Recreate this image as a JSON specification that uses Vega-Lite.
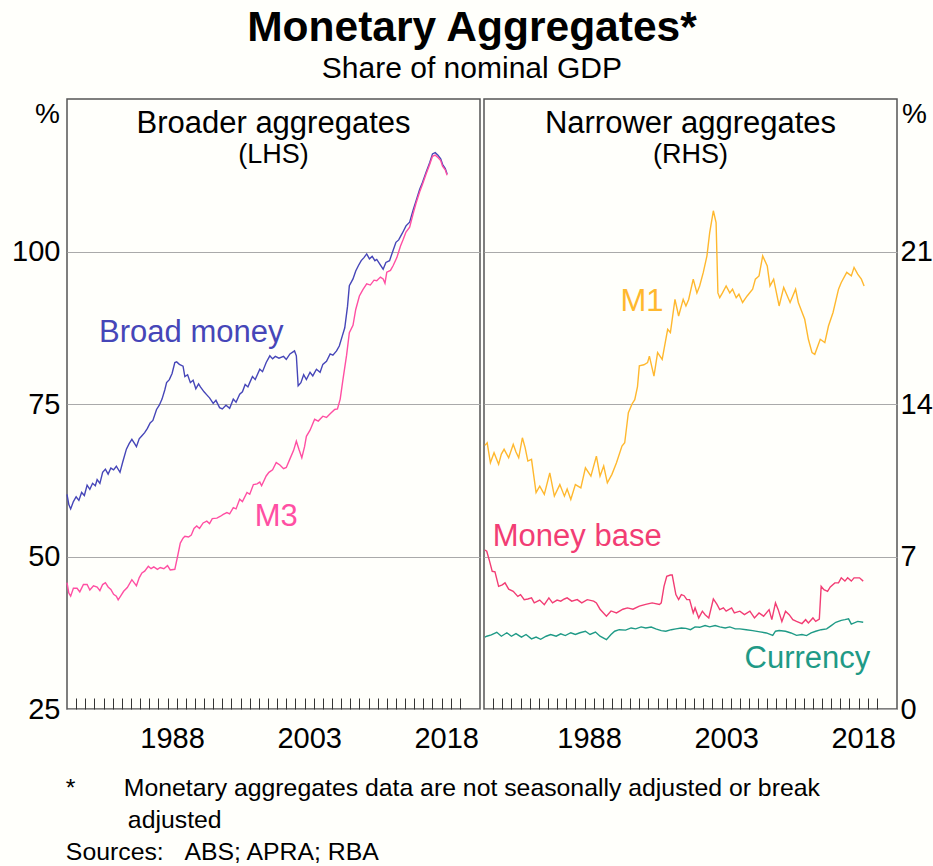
{
  "$schema": "https://vega.github.io/schema/vega-lite/v6.json",
  "background": "#fffffb",
  "padding": {"left": 10, "right": 2, "top": 6, "bottom": 2},
  "config": {
    "font": "Liberation Sans",
    "view": {"stroke": "#555555", "strokeWidth": 1.5},
    "axis": {"labelFont": "Liberation Sans", "labelFontSize": 29, "labelColor": "#000000", "titleFont": "Liberation Sans", "titleColor": "#000000", "gridColor": "#aaaaaa", "gridWidth": 1},
    "title": {"font": "Liberation Sans", "subtitleFont": "Liberation Sans", "color": "#000000", "subtitleColor": "#000000"},
    "text": {"font": "Liberation Sans"}
  },
  "title": {"text": "Monetary Aggregates*", "subtitle": "Share of nominal GDP", "fontSize": 42.5, "fontWeight": "bold", "subtitleFontSize": 30, "anchor": "middle", "offset": 14, "subtitlePadding": 5},
  "datasets": {
    "left": [
      {"s":"Broad money","t":1977.0,"v":60.2},{"s":"Broad money","t":1977.2,"v":58.5},{"s":"Broad money","t":1977.4,"v":57.8},{"s":"Broad money","t":1977.7,"v":59.0},{"s":"Broad money","t":1978.0,"v":59.8},{"s":"Broad money","t":1978.3,"v":59.2},{"s":"Broad money","t":1978.6,"v":60.5},{"s":"Broad money","t":1978.9,"v":60.0},{"s":"Broad money","t":1979.2,"v":61.7},{"s":"Broad money","t":1979.5,"v":61.0},{"s":"Broad money","t":1979.8,"v":62.0},{"s":"Broad money","t":1980.1,"v":61.6},{"s":"Broad money","t":1980.3,"v":62.6},{"s":"Broad money","t":1980.6,"v":62.0},{"s":"Broad money","t":1980.9,"v":63.8},{"s":"Broad money","t":1981.2,"v":64.3},{"s":"Broad money","t":1981.5,"v":63.5},{"s":"Broad money","t":1981.8,"v":64.5},{"s":"Broad money","t":1982.1,"v":64.2},{"s":"Broad money","t":1982.4,"v":64.8},{"s":"Broad money","t":1982.8,"v":63.8},{"s":"Broad money","t":1983.1,"v":65.5},{"s":"Broad money","t":1983.5,"v":67.6},{"s":"Broad money","t":1983.8,"v":68.5},{"s":"Broad money","t":1984.1,"v":69.2},{"s":"Broad money","t":1984.4,"v":68.5},{"s":"Broad money","t":1984.6,"v":68.0},{"s":"Broad money","t":1984.9,"v":69.3},{"s":"Broad money","t":1985.2,"v":69.8},{"s":"Broad money","t":1985.5,"v":70.3},{"s":"Broad money","t":1985.8,"v":71.0},{"s":"Broad money","t":1986.1,"v":71.9},{"s":"Broad money","t":1986.4,"v":72.3},{"s":"Broad money","t":1986.8,"v":74.1},{"s":"Broad money","t":1987.1,"v":74.8},{"s":"Broad money","t":1987.4,"v":75.8},{"s":"Broad money","t":1987.7,"v":77.3},{"s":"Broad money","t":1987.9,"v":78.5},{"s":"Broad money","t":1988.2,"v":79.0},{"s":"Broad money","t":1988.5,"v":80.0},{"s":"Broad money","t":1988.8,"v":81.8},{"s":"Broad money","t":1989.0,"v":81.9},{"s":"Broad money","t":1989.3,"v":81.5},{"s":"Broad money","t":1989.7,"v":81.2},{"s":"Broad money","t":1989.9,"v":79.5},{"s":"Broad money","t":1990.2,"v":79.8},{"s":"Broad money","t":1990.5,"v":78.5},{"s":"Broad money","t":1990.8,"v":78.9},{"s":"Broad money","t":1991.1,"v":77.5},{"s":"Broad money","t":1991.4,"v":78.3},{"s":"Broad money","t":1991.6,"v":77.8},{"s":"Broad money","t":1992.0,"v":77.0},{"s":"Broad money","t":1992.3,"v":76.5},{"s":"Broad money","t":1992.6,"v":76.0},{"s":"Broad money","t":1993.0,"v":75.1},{"s":"Broad money","t":1993.3,"v":75.6},{"s":"Broad money","t":1993.7,"v":74.4},{"s":"Broad money","t":1994.0,"v":74.2},{"s":"Broad money","t":1994.4,"v":74.8},{"s":"Broad money","t":1994.8,"v":74.3},{"s":"Broad money","t":1995.2,"v":75.8},{"s":"Broad money","t":1995.5,"v":75.3},{"s":"Broad money","t":1995.9,"v":76.6},{"s":"Broad money","t":1996.2,"v":77.0},{"s":"Broad money","t":1996.5,"v":78.2},{"s":"Broad money","t":1996.8,"v":77.8},{"s":"Broad money","t":1997.0,"v":78.5},{"s":"Broad money","t":1997.3,"v":79.5},{"s":"Broad money","t":1997.6,"v":79.0},{"s":"Broad money","t":1998.1,"v":80.7},{"s":"Broad money","t":1998.4,"v":80.3},{"s":"Broad money","t":1998.8,"v":81.8},{"s":"Broad money","t":1999.2,"v":82.9},{"s":"Broad money","t":1999.5,"v":82.4},{"s":"Broad money","t":1999.8,"v":82.8},{"s":"Broad money","t":2000.2,"v":82.5},{"s":"Broad money","t":2000.7,"v":82.8},{"s":"Broad money","t":2001.0,"v":82.3},{"s":"Broad money","t":2001.4,"v":83.2},{"s":"Broad money","t":2001.7,"v":83.5},{"s":"Broad money","t":2001.9,"v":83.7},{"s":"Broad money","t":2002.1,"v":82.9},{"s":"Broad money","t":2002.3,"v":78.0},{"s":"Broad money","t":2002.6,"v":78.5},{"s":"Broad money","t":2002.9,"v":79.8},{"s":"Broad money","t":2003.2,"v":79.0},{"s":"Broad money","t":2003.6,"v":80.2},{"s":"Broad money","t":2003.9,"v":79.6},{"s":"Broad money","t":2004.3,"v":80.7},{"s":"Broad money","t":2004.7,"v":80.2},{"s":"Broad money","t":2005.0,"v":81.5},{"s":"Broad money","t":2005.4,"v":82.0},{"s":"Broad money","t":2005.8,"v":83.2},{"s":"Broad money","t":2006.1,"v":83.0},{"s":"Broad money","t":2006.5,"v":83.7},{"s":"Broad money","t":2006.8,"v":84.5},{"s":"Broad money","t":2007.1,"v":86.0},{"s":"Broad money","t":2007.4,"v":87.5},{"s":"Broad money","t":2007.7,"v":91.0},{"s":"Broad money","t":2007.9,"v":94.4},{"s":"Broad money","t":2008.3,"v":95.5},{"s":"Broad money","t":2008.6,"v":96.8},{"s":"Broad money","t":2008.9,"v":97.7},{"s":"Broad money","t":2009.2,"v":98.5},{"s":"Broad money","t":2009.5,"v":99.0},{"s":"Broad money","t":2009.8,"v":99.6},{"s":"Broad money","t":2010.1,"v":98.8},{"s":"Broad money","t":2010.4,"v":99.2},{"s":"Broad money","t":2010.7,"v":98.5},{"s":"Broad money","t":2010.9,"v":98.7},{"s":"Broad money","t":2011.2,"v":98.0},{"s":"Broad money","t":2011.6,"v":97.1},{"s":"Broad money","t":2011.9,"v":98.2},{"s":"Broad money","t":2012.3,"v":98.5},{"s":"Broad money","t":2012.6,"v":99.8},{"s":"Broad money","t":2013.0,"v":101.5},{"s":"Broad money","t":2013.3,"v":101.9},{"s":"Broad money","t":2013.7,"v":103.0},{"s":"Broad money","t":2014.1,"v":104.2},{"s":"Broad money","t":2014.5,"v":104.8},{"s":"Broad money","t":2014.9,"v":106.9},{"s":"Broad money","t":2015.2,"v":108.3},{"s":"Broad money","t":2015.6,"v":110.2},{"s":"Broad money","t":2015.9,"v":111.3},{"s":"Broad money","t":2016.3,"v":113.0},{"s":"Broad money","t":2016.7,"v":114.6},{"s":"Broad money","t":2017.0,"v":116.0},{"s":"Broad money","t":2017.3,"v":116.2},{"s":"Broad money","t":2017.6,"v":115.8},{"s":"Broad money","t":2017.9,"v":115.2},{"s":"Broad money","t":2018.1,"v":114.3},{"s":"Broad money","t":2018.4,"v":113.6},{"s":"Broad money","t":2018.6,"v":112.7},
      {"s":"M3","t":1977.0,"v":45.7},{"s":"M3","t":1977.2,"v":44.0},{"s":"M3","t":1977.4,"v":43.5},{"s":"M3","t":1977.7,"v":44.8},{"s":"M3","t":1978.1,"v":44.8},{"s":"M3","t":1978.4,"v":44.2},{"s":"M3","t":1978.8,"v":45.4},{"s":"M3","t":1979.2,"v":45.4},{"s":"M3","t":1979.5,"v":44.5},{"s":"M3","t":1979.9,"v":45.2},{"s":"M3","t":1980.3,"v":45.0},{"s":"M3","t":1980.6,"v":44.4},{"s":"M3","t":1980.9,"v":45.4},{"s":"M3","t":1981.2,"v":45.7},{"s":"M3","t":1981.5,"v":45.0},{"s":"M3","t":1981.8,"v":44.6},{"s":"M3","t":1982.1,"v":43.8},{"s":"M3","t":1982.4,"v":43.5},{"s":"M3","t":1982.6,"v":42.9},{"s":"M3","t":1982.9,"v":43.6},{"s":"M3","t":1983.2,"v":44.3},{"s":"M3","t":1983.6,"v":44.9},{"s":"M3","t":1984.1,"v":46.2},{"s":"M3","t":1984.4,"v":45.6},{"s":"M3","t":1984.6,"v":45.2},{"s":"M3","t":1984.9,"v":46.5},{"s":"M3","t":1985.2,"v":47.3},{"s":"M3","t":1985.5,"v":47.6},{"s":"M3","t":1985.9,"v":48.4},{"s":"M3","t":1986.2,"v":48.0},{"s":"M3","t":1986.5,"v":48.3},{"s":"M3","t":1986.9,"v":47.9},{"s":"M3","t":1987.2,"v":48.2},{"s":"M3","t":1987.6,"v":48.0},{"s":"M3","t":1988.0,"v":48.5},{"s":"M3","t":1988.3,"v":47.8},{"s":"M3","t":1988.8,"v":47.9},{"s":"M3","t":1989.1,"v":50.0},{"s":"M3","t":1989.4,"v":52.2},{"s":"M3","t":1989.7,"v":53.0},{"s":"M3","t":1989.9,"v":53.3},{"s":"M3","t":1990.3,"v":53.2},{"s":"M3","t":1990.6,"v":53.5},{"s":"M3","t":1990.9,"v":54.6},{"s":"M3","t":1991.2,"v":55.0},{"s":"M3","t":1991.5,"v":54.6},{"s":"M3","t":1991.9,"v":55.5},{"s":"M3","t":1992.3,"v":55.8},{"s":"M3","t":1992.6,"v":55.4},{"s":"M3","t":1992.9,"v":56.2},{"s":"M3","t":1993.4,"v":56.3},{"s":"M3","t":1993.8,"v":56.6},{"s":"M3","t":1994.1,"v":56.9},{"s":"M3","t":1994.5,"v":57.2},{"s":"M3","t":1994.8,"v":57.0},{"s":"M3","t":1995.2,"v":58.0},{"s":"M3","t":1995.5,"v":57.8},{"s":"M3","t":1995.9,"v":59.4},{"s":"M3","t":1996.2,"v":59.0},{"s":"M3","t":1996.7,"v":60.5},{"s":"M3","t":1997.0,"v":60.2},{"s":"M3","t":1997.4,"v":61.8},{"s":"M3","t":1997.8,"v":61.9},{"s":"M3","t":1998.1,"v":62.2},{"s":"M3","t":1998.3,"v":61.6},{"s":"M3","t":1998.8,"v":63.2},{"s":"M3","t":1999.1,"v":63.8},{"s":"M3","t":1999.5,"v":64.2},{"s":"M3","t":1999.9,"v":65.4},{"s":"M3","t":2000.3,"v":65.0},{"s":"M3","t":2000.7,"v":64.4},{"s":"M3","t":2001.0,"v":64.6},{"s":"M3","t":2001.4,"v":66.0},{"s":"M3","t":2001.8,"v":67.4},{"s":"M3","t":2002.1,"v":68.9},{"s":"M3","t":2002.4,"v":67.5},{"s":"M3","t":2002.7,"v":66.2},{"s":"M3","t":2003.0,"v":68.0},{"s":"M3","t":2003.2,"v":69.7},{"s":"M3","t":2003.6,"v":70.7},{"s":"M3","t":2004.1,"v":72.5},{"s":"M3","t":2004.5,"v":72.2},{"s":"M3","t":2005.0,"v":73.0},{"s":"M3","t":2005.4,"v":72.8},{"s":"M3","t":2005.8,"v":73.4},{"s":"M3","t":2006.3,"v":74.1},{"s":"M3","t":2006.6,"v":74.2},{"s":"M3","t":2006.9,"v":75.8},{"s":"M3","t":2007.2,"v":79.0},{"s":"M3","t":2007.6,"v":83.0},{"s":"M3","t":2007.9,"v":86.7},{"s":"M3","t":2008.3,"v":87.9},{"s":"M3","t":2008.6,"v":90.5},{"s":"M3","t":2009.0,"v":92.7},{"s":"M3","t":2009.4,"v":93.8},{"s":"M3","t":2009.8,"v":94.7},{"s":"M3","t":2010.2,"v":94.5},{"s":"M3","t":2010.6,"v":95.3},{"s":"M3","t":2010.9,"v":95.2},{"s":"M3","t":2011.3,"v":95.8},{"s":"M3","t":2011.6,"v":95.5},{"s":"M3","t":2011.8,"v":94.8},{"s":"M3","t":2012.0,"v":96.6},{"s":"M3","t":2012.4,"v":96.9},{"s":"M3","t":2012.7,"v":97.7},{"s":"M3","t":2013.1,"v":99.0},{"s":"M3","t":2013.5,"v":100.9},{"s":"M3","t":2013.8,"v":102.0},{"s":"M3","t":2014.1,"v":103.2},{"s":"M3","t":2014.5,"v":104.0},{"s":"M3","t":2014.9,"v":106.3},{"s":"M3","t":2015.2,"v":107.9},{"s":"M3","t":2015.6,"v":109.8},{"s":"M3","t":2015.9,"v":111.0},{"s":"M3","t":2016.3,"v":112.7},{"s":"M3","t":2016.7,"v":114.3},{"s":"M3","t":2017.0,"v":115.6},{"s":"M3","t":2017.3,"v":115.8},{"s":"M3","t":2017.6,"v":115.4},{"s":"M3","t":2017.9,"v":114.9},{"s":"M3","t":2018.1,"v":114.0},{"s":"M3","t":2018.4,"v":113.4},{"s":"M3","t":2018.6,"v":112.5}
    ],
    "right": [
      {"s":"M1","t":1977.1,"v":12.1},{"s":"M1","t":1977.35,"v":12.22},{"s":"M1","t":1977.7,"v":11.3},{"s":"M1","t":1978.1,"v":11.76},{"s":"M1","t":1978.6,"v":11.23},{"s":"M1","t":1978.9,"v":11.7},{"s":"M1","t":1979.2,"v":11.92},{"s":"M1","t":1979.7,"v":11.53},{"s":"M1","t":1980.2,"v":12.15},{"s":"M1","t":1980.5,"v":11.8},{"s":"M1","t":1980.8,"v":11.53},{"s":"M1","t":1981.2,"v":12.45},{"s":"M1","t":1981.5,"v":12.0},{"s":"M1","t":1981.8,"v":11.38},{"s":"M1","t":1982.2,"v":11.46},{"s":"M1","t":1982.7,"v":9.93},{"s":"M1","t":1983.1,"v":10.23},{"s":"M1","t":1983.6,"v":9.85},{"s":"M1","t":1984.2,"v":10.84},{"s":"M1","t":1984.7,"v":9.77},{"s":"M1","t":1985.3,"v":10.3},{"s":"M1","t":1985.8,"v":9.77},{"s":"M1","t":1986.1,"v":10.1},{"s":"M1","t":1986.5,"v":9.62},{"s":"M1","t":1987.0,"v":10.3},{"s":"M1","t":1987.6,"v":10.15},{"s":"M1","t":1988.1,"v":11.07},{"s":"M1","t":1988.7,"v":10.69},{"s":"M1","t":1989.3,"v":11.61},{"s":"M1","t":1989.7,"v":10.69},{"s":"M1","t":1990.1,"v":11.15},{"s":"M1","t":1990.5,"v":10.38},{"s":"M1","t":1991.0,"v":10.77},{"s":"M1","t":1991.5,"v":11.3},{"s":"M1","t":1992.1,"v":12.07},{"s":"M1","t":1992.4,"v":12.22},{"s":"M1","t":1992.8,"v":13.6},{"s":"M1","t":1993.2,"v":14.0},{"s":"M1","t":1993.5,"v":14.2},{"s":"M1","t":1993.8,"v":14.8},{"s":"M1","t":1994.0,"v":15.75},{"s":"M1","t":1994.5,"v":15.8},{"s":"M1","t":1994.9,"v":15.9},{"s":"M1","t":1995.1,"v":16.2},{"s":"M1","t":1995.6,"v":15.28},{"s":"M1","t":1996.0,"v":16.36},{"s":"M1","t":1996.5,"v":16.05},{"s":"M1","t":1997.1,"v":17.43},{"s":"M1","t":1997.4,"v":17.28},{"s":"M1","t":1997.9,"v":18.8},{"s":"M1","t":1998.3,"v":18.04},{"s":"M1","t":1998.8,"v":18.8},{"s":"M1","t":1999.1,"v":18.5},{"s":"M1","t":1999.4,"v":18.8},{"s":"M1","t":1999.9,"v":19.73},{"s":"M1","t":2000.3,"v":19.1},{"s":"M1","t":2000.6,"v":19.42},{"s":"M1","t":2001.0,"v":20.04},{"s":"M1","t":2001.4,"v":20.8},{"s":"M1","t":2001.7,"v":21.87},{"s":"M1","t":2002.1,"v":22.87},{"s":"M1","t":2002.4,"v":22.33},{"s":"M1","t":2002.6,"v":19.1},{"s":"M1","t":2002.8,"v":18.88},{"s":"M1","t":2003.1,"v":19.1},{"s":"M1","t":2003.5,"v":19.42},{"s":"M1","t":2003.9,"v":19.1},{"s":"M1","t":2004.2,"v":19.27},{"s":"M1","t":2004.6,"v":18.88},{"s":"M1","t":2004.9,"v":19.04},{"s":"M1","t":2005.3,"v":18.66},{"s":"M1","t":2005.8,"v":18.96},{"s":"M1","t":2006.4,"v":19.27},{"s":"M1","t":2006.7,"v":19.73},{"s":"M1","t":2007.1,"v":19.88},{"s":"M1","t":2007.5,"v":20.8},{"s":"M1","t":2008.0,"v":20.34},{"s":"M1","t":2008.3,"v":19.42},{"s":"M1","t":2008.7,"v":19.73},{"s":"M1","t":2009.3,"v":18.5},{"s":"M1","t":2009.8,"v":19.35},{"s":"M1","t":2010.5,"v":18.66},{"s":"M1","t":2011.1,"v":19.27},{"s":"M1","t":2011.4,"v":18.66},{"s":"M1","t":2012.1,"v":17.89},{"s":"M1","t":2012.5,"v":16.97},{"s":"M1","t":2012.9,"v":16.36},{"s":"M1","t":2013.2,"v":16.28},{"s":"M1","t":2013.8,"v":16.97},{"s":"M1","t":2014.3,"v":16.82},{"s":"M1","t":2014.7,"v":17.58},{"s":"M1","t":2015.2,"v":18.2},{"s":"M1","t":2015.8,"v":19.27},{"s":"M1","t":2016.1,"v":19.58},{"s":"M1","t":2016.7,"v":20.04},{"s":"M1","t":2017.2,"v":19.88},{"s":"M1","t":2017.5,"v":20.27},{"s":"M1","t":2017.9,"v":19.96},{"s":"M1","t":2018.3,"v":19.73},{"s":"M1","t":2018.6,"v":19.42},
      {"s":"Money base","t":1977.1,"v":7.3},{"s":"Money base","t":1977.3,"v":7.24},{"s":"Money base","t":1977.6,"v":6.8},{"s":"Money base","t":1977.9,"v":6.32},{"s":"Money base","t":1978.2,"v":6.3},{"s":"Money base","t":1978.6,"v":5.63},{"s":"Money base","t":1979.0,"v":5.7},{"s":"Money base","t":1979.3,"v":5.79},{"s":"Money base","t":1979.7,"v":5.5},{"s":"Money base","t":1980.2,"v":5.4},{"s":"Money base","t":1980.7,"v":5.17},{"s":"Money base","t":1981.0,"v":5.25},{"s":"Money base","t":1981.4,"v":5.02},{"s":"Money base","t":1981.8,"v":5.05},{"s":"Money base","t":1982.2,"v":5.1},{"s":"Money base","t":1982.5,"v":4.87},{"s":"Money base","t":1983.1,"v":5.0},{"s":"Money base","t":1983.6,"v":4.79},{"s":"Money base","t":1984.1,"v":5.1},{"s":"Money base","t":1984.5,"v":4.87},{"s":"Money base","t":1985.0,"v":5.0},{"s":"Money base","t":1985.4,"v":4.95},{"s":"Money base","t":1985.8,"v":5.05},{"s":"Money base","t":1986.1,"v":5.1},{"s":"Money base","t":1986.6,"v":4.95},{"s":"Money base","t":1987.2,"v":5.02},{"s":"Money base","t":1987.7,"v":4.87},{"s":"Money base","t":1988.3,"v":5.02},{"s":"Money base","t":1989.0,"v":4.95},{"s":"Money base","t":1989.3,"v":4.87},{"s":"Money base","t":1989.7,"v":4.58},{"s":"Money base","t":1990.4,"v":4.26},{"s":"Money base","t":1990.9,"v":4.5},{"s":"Money base","t":1991.5,"v":4.41},{"s":"Money base","t":1992.2,"v":4.58},{"s":"Money base","t":1992.7,"v":4.64},{"s":"Money base","t":1993.3,"v":4.58},{"s":"Money base","t":1994.0,"v":4.72},{"s":"Money base","t":1994.7,"v":4.8},{"s":"Money base","t":1995.4,"v":4.87},{"s":"Money base","t":1996.2,"v":4.8},{"s":"Money base","t":1996.4,"v":4.87},{"s":"Money base","t":1996.7,"v":5.63},{"s":"Money base","t":1997.0,"v":6.09},{"s":"Money base","t":1997.4,"v":6.15},{"s":"Money base","t":1997.6,"v":6.15},{"s":"Money base","t":1998.0,"v":5.25},{"s":"Money base","t":1998.3,"v":5.02},{"s":"Money base","t":1998.6,"v":5.25},{"s":"Money base","t":1998.9,"v":5.2},{"s":"Money base","t":1999.2,"v":5.02},{"s":"Money base","t":1999.5,"v":5.02},{"s":"Money base","t":1999.9,"v":4.41},{"s":"Money base","t":2000.1,"v":4.64},{"s":"Money base","t":2000.5,"v":4.18},{"s":"Money base","t":2000.9,"v":4.49},{"s":"Money base","t":2001.2,"v":4.33},{"s":"Money base","t":2001.6,"v":4.18},{"s":"Money base","t":2002.1,"v":5.05},{"s":"Money base","t":2002.5,"v":4.8},{"s":"Money base","t":2002.8,"v":4.56},{"s":"Money base","t":2003.2,"v":4.64},{"s":"Money base","t":2003.5,"v":4.49},{"s":"Money base","t":2004.1,"v":4.64},{"s":"Money base","t":2004.4,"v":4.41},{"s":"Money base","t":2005.0,"v":4.49},{"s":"Money base","t":2005.5,"v":4.33},{"s":"Money base","t":2006.1,"v":4.49},{"s":"Money base","t":2006.6,"v":4.18},{"s":"Money base","t":2007.1,"v":4.41},{"s":"Money base","t":2007.6,"v":4.26},{"s":"Money base","t":2008.2,"v":4.56},{"s":"Money base","t":2008.5,"v":4.1},{"s":"Money base","t":2008.9,"v":4.87},{"s":"Money base","t":2009.2,"v":4.56},{"s":"Money base","t":2009.6,"v":4.02},{"s":"Money base","t":2010.0,"v":4.49},{"s":"Money base","t":2010.4,"v":4.33},{"s":"Money base","t":2010.8,"v":4.1},{"s":"Money base","t":2011.2,"v":4.02},{"s":"Money base","t":2011.8,"v":3.92},{"s":"Money base","t":2012.2,"v":4.1},{"s":"Money base","t":2012.5,"v":3.95},{"s":"Money base","t":2013.0,"v":4.18},{"s":"Money base","t":2013.3,"v":4.02},{"s":"Money base","t":2013.7,"v":4.13},{"s":"Money base","t":2013.9,"v":5.63},{"s":"Money base","t":2014.2,"v":5.48},{"s":"Money base","t":2014.6,"v":5.4},{"s":"Money base","t":2014.9,"v":5.6},{"s":"Money base","t":2015.4,"v":5.79},{"s":"Money base","t":2015.8,"v":5.79},{"s":"Money base","t":2016.1,"v":6.02},{"s":"Money base","t":2016.5,"v":5.87},{"s":"Money base","t":2016.8,"v":6.02},{"s":"Money base","t":2017.2,"v":5.87},{"s":"Money base","t":2017.5,"v":6.02},{"s":"Money base","t":2018.1,"v":6.02},{"s":"Money base","t":2018.5,"v":5.87},
      {"s":"Currency","t":1977.1,"v":3.3},{"s":"Currency","t":1977.3,"v":3.34},{"s":"Currency","t":1977.8,"v":3.4},{"s":"Currency","t":1978.4,"v":3.52},{"s":"Currency","t":1978.9,"v":3.34},{"s":"Currency","t":1979.5,"v":3.5},{"s":"Currency","t":1980.0,"v":3.34},{"s":"Currency","t":1980.5,"v":3.46},{"s":"Currency","t":1981.1,"v":3.3},{"s":"Currency","t":1981.6,"v":3.42},{"s":"Currency","t":1982.2,"v":3.22},{"s":"Currency","t":1982.7,"v":3.3},{"s":"Currency","t":1983.2,"v":3.2},{"s":"Currency","t":1983.8,"v":3.34},{"s":"Currency","t":1984.3,"v":3.42},{"s":"Currency","t":1984.9,"v":3.34},{"s":"Currency","t":1985.4,"v":3.45},{"s":"Currency","t":1985.9,"v":3.37},{"s":"Currency","t":1986.5,"v":3.5},{"s":"Currency","t":1987.0,"v":3.42},{"s":"Currency","t":1987.5,"v":3.5},{"s":"Currency","t":1988.1,"v":3.57},{"s":"Currency","t":1988.6,"v":3.42},{"s":"Currency","t":1989.2,"v":3.53},{"s":"Currency","t":1989.7,"v":3.34},{"s":"Currency","t":1990.4,"v":3.18},{"s":"Currency","t":1990.9,"v":3.42},{"s":"Currency","t":1991.3,"v":3.57},{"s":"Currency","t":1991.8,"v":3.64},{"s":"Currency","t":1992.5,"v":3.62},{"s":"Currency","t":1993.1,"v":3.72},{"s":"Currency","t":1993.6,"v":3.68},{"s":"Currency","t":1994.2,"v":3.77},{"s":"Currency","t":1994.7,"v":3.72},{"s":"Currency","t":1995.3,"v":3.76},{"s":"Currency","t":1995.8,"v":3.68},{"s":"Currency","t":1996.4,"v":3.6},{"s":"Currency","t":1996.9,"v":3.57},{"s":"Currency","t":1997.5,"v":3.64},{"s":"Currency","t":1998.0,"v":3.68},{"s":"Currency","t":1998.6,"v":3.72},{"s":"Currency","t":1999.1,"v":3.7},{"s":"Currency","t":1999.6,"v":3.64},{"s":"Currency","t":2000.1,"v":3.77},{"s":"Currency","t":2000.6,"v":3.75},{"s":"Currency","t":2001.2,"v":3.83},{"s":"Currency","t":2001.7,"v":3.77},{"s":"Currency","t":2002.3,"v":3.83},{"s":"Currency","t":2002.8,"v":3.77},{"s":"Currency","t":2003.4,"v":3.72},{"s":"Currency","t":2003.9,"v":3.77},{"s":"Currency","t":2004.5,"v":3.68},{"s":"Currency","t":2005.0,"v":3.68},{"s":"Currency","t":2005.7,"v":3.64},{"s":"Currency","t":2006.4,"v":3.6},{"s":"Currency","t":2007.2,"v":3.54},{"s":"Currency","t":2007.9,"v":3.49},{"s":"Currency","t":2008.6,"v":3.38},{"s":"Currency","t":2008.9,"v":3.57},{"s":"Currency","t":2009.3,"v":3.6},{"s":"Currency","t":2010.0,"v":3.57},{"s":"Currency","t":2010.6,"v":3.49},{"s":"Currency","t":2011.2,"v":3.38},{"s":"Currency","t":2011.8,"v":3.42},{"s":"Currency","t":2012.3,"v":3.37},{"s":"Currency","t":2012.8,"v":3.49},{"s":"Currency","t":2013.3,"v":3.57},{"s":"Currency","t":2013.9,"v":3.64},{"s":"Currency","t":2014.5,"v":3.68},{"s":"Currency","t":2015.0,"v":3.83},{"s":"Currency","t":2015.5,"v":3.98},{"s":"Currency","t":2016.1,"v":4.07},{"s":"Currency","t":2016.5,"v":4.1},{"s":"Currency","t":2016.9,"v":4.14},{"s":"Currency","t":2017.2,"v":3.9},{"s":"Currency","t":2017.9,"v":4.02},{"s":"Currency","t":2018.5,"v":3.98}
    ],
    "leftLabels": [
      {"s":"Broad money","t":1990.6,"v":85.1},
      {"s":"M3","t":1999.9,"v":55.0}
    ],
    "rightLabels": [
      {"s":"M1","t":1994.3,"v":18.27},
      {"s":"Money base","t":1987.2,"v":7.47},
      {"s":"Currency","t":2012.4,"v":1.88}
    ]
  },
  "vconcat": [
    {
      "title": {"text": ["*\u00a0\u00a0\u00a0\u00a0\u00a0\u00a0\u00a0Monetary aggregates data are not seasonally adjusted or break", "\u200b\u00a0\u00a0\u00a0\u00a0\u00a0\u00a0\u00a0\u00a0\u00a0adjusted", "Sources:\u00a0\u00a0\u00a0ABS; APRA; RBA"], "orient": "bottom", "anchor": "start", "fontSize": 24.8, "fontWeight": "normal", "lineHeight": 32, "offset": 22, "dx": 55},
      "spacing": 0,
      "hconcat": [
        {
          "width": 413,
          "height": 610,
          "title": {"text": "Broader aggregates", "subtitle": "(LHS)", "fontSize": 31, "fontWeight": "normal", "subtitleFontSize": 27, "anchor": "middle", "frame": "group", "offset": -70, "subtitlePadding": 2},
          "resolve": {"axis": {"x": "independent", "y": "independent"}},
          "layer": [
            {
              "data": {"name": "left"},
              "mark": {"type": "line", "strokeWidth": 1.4},
              "encoding": {
                "x": {"field": "t", "type": "quantitative", "scale": {"domain": [1977, 2022.2], "nice": false, "zero": false},
                      "axis": {"title": null, "values": [1978,1979,1980,1981,1982,1983,1984,1985,1986,1987,1988,1989,1990,1991,1992,1993,1994,1995,1996,1997,1998,1999,2000,2001,2002,2003,2004,2005,2006,2007,2008,2009,2010,2011,2012,2013,2014,2015,2016,2017,2018,2019,2020],
                               "format": "d", "labelExpr": "indexof([1988,2003,2018], datum.value) >= 0 ? datum.label : ''", "labelOffset": 4.6, "labelPadding": 26, "labelOverlap": false, "labelFlush": false, "tickSize": -11, "tickColor": "#333333", "tickWidth": 1, "domain": false, "grid": false}},
                "y": {"field": "v", "type": "quantitative", "scale": {"domain": [25, 125], "nice": false, "zero": false},
                      "axis": {"orient": "left", "values": [25, 50, 75, 100], "ticks": false, "domain": false, "grid": true, "labelPadding": 7, "title": "%", "titleAngle": 0, "titleFontSize": 28, "titleFontWeight": "normal", "titleAlign": "center", "titleBaseline": "top", "titleX": -20, "titleY": 1}},
                "color": {"field": "s", "type": "nominal", "scale": {"domain": ["Broad money", "M3", "M1", "Money base", "Currency"], "range": ["#4646b8", "#ff4fa3", "#ffb82e", "#f23d74", "#1f9a86"]}, "legend": null}
              }
            },
            {
              "data": {"name": "leftLabels"},
              "mark": {"type": "text", "fontSize": 31, "align": "center", "baseline": "alphabetic"},
              "encoding": {
                "x": {"field": "t", "type": "quantitative", "axis": null},
                "y": {"field": "v", "type": "quantitative", "axis": null},
                "text": {"field": "s"},
                "color": {"field": "s", "type": "nominal", "scale": {"domain": ["Broad money", "M3", "M1", "Money base", "Currency"], "range": ["#4646b8", "#ff4fa3", "#ffb82e", "#f23d74", "#1f9a86"]}, "legend": null}
              }
            }
          ]
        },
        {
          "width": 413,
          "height": 610,
          "title": {"text": "Narrower aggregates", "subtitle": "(RHS)", "fontSize": 31, "fontWeight": "normal", "subtitleFontSize": 27, "anchor": "middle", "frame": "group", "offset": -70, "subtitlePadding": 2},
          "resolve": {"axis": {"x": "independent", "y": "independent"}},
          "layer": [
            {
              "data": {"name": "right"},
              "mark": {"type": "line", "strokeWidth": 1.4},
              "encoding": {
                "x": {"field": "t", "type": "quantitative", "scale": {"domain": [1977, 2022.2], "nice": false, "zero": false},
                      "axis": {"title": null, "values": [1978,1979,1980,1981,1982,1983,1984,1985,1986,1987,1988,1989,1990,1991,1992,1993,1994,1995,1996,1997,1998,1999,2000,2001,2002,2003,2004,2005,2006,2007,2008,2009,2010,2011,2012,2013,2014,2015,2016,2017,2018,2019,2020],
                               "format": "d", "labelExpr": "indexof([1988,2003,2018], datum.value) >= 0 ? datum.label : ''", "labelOffset": 4.6, "labelPadding": 26, "labelOverlap": false, "labelFlush": false, "tickSize": -11, "tickColor": "#333333", "tickWidth": 1, "domain": false, "grid": false}},
                "y": {"field": "v", "type": "quantitative", "scale": {"domain": [0, 28], "nice": false, "zero": false},
                      "axis": {"orient": "right", "values": [0, 7, 14, 21], "ticks": false, "domain": false, "grid": true, "labelPadding": 3, "title": "%", "titleAngle": 0, "titleFontSize": 28, "titleFontWeight": "normal", "titleAlign": "center", "titleBaseline": "top", "titleX": 17, "titleY": 1}},
                "color": {"field": "s", "type": "nominal", "scale": {"domain": ["Broad money", "M3", "M1", "Money base", "Currency"], "range": ["#4646b8", "#ff4fa3", "#ffb82e", "#f23d74", "#1f9a86"]}, "legend": null}
              }
            },
            {
              "data": {"name": "rightLabels"},
              "mark": {"type": "text", "fontSize": 31, "align": "center", "baseline": "alphabetic"},
              "encoding": {
                "x": {"field": "t", "type": "quantitative", "axis": null},
                "y": {"field": "v", "type": "quantitative", "axis": null},
                "text": {"field": "s"},
                "color": {"field": "s", "type": "nominal", "scale": {"domain": ["Broad money", "M3", "M1", "Money base", "Currency"], "range": ["#4646b8", "#ff4fa3", "#ffb82e", "#f23d74", "#1f9a86"]}, "legend": null}
              }
            }
          ]
        }
      ]
    }
  ]
}
